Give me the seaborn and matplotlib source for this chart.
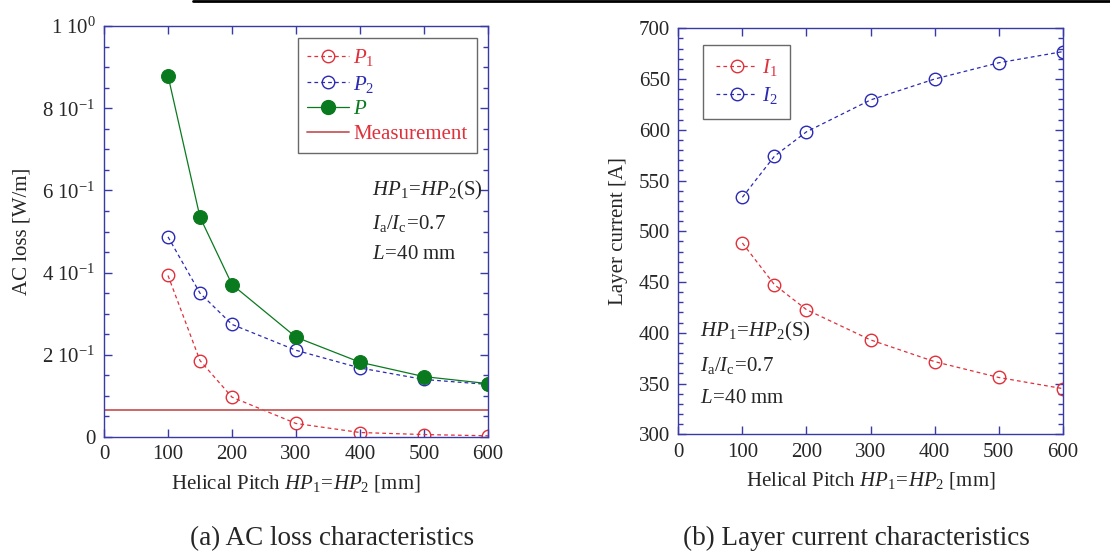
import matplotlib
matplotlib.use("Agg")
import matplotlib.pyplot as plt
from matplotlib.lines import Line2D
from matplotlib.ticker import MultipleLocator, FixedLocator, FixedFormatter
import seaborn as sns
import pandas as pd

# data
pitch = [100, 150, 200, 300, 400, 500, 600]
p1 = [0.393, 0.186, 0.097, 0.033, 0.011, 0.006, 0.003]
p2 = [0.487, 0.350, 0.274, 0.211, 0.168, 0.140, 0.128]
p_total = [0.879, 0.535, 0.371, 0.243, 0.182, 0.147, 0.130]
measurement = 0.066
i1 = [488.5, 447.4, 422.8, 393.0, 371.6, 356.0, 345.0]
i2 = [533.5, 574.0, 598.0, 629.4, 650.0, 666.0, 677.0]
loss_ticks = [0, 0.2, 0.4, 0.6, 0.8, 1.0]
loss_labels = ["0", r"$2\ 10^{-1}$", r"$4\ 10^{-1}$", r"$6\ 10^{-1}$",
               r"$8\ 10^{-1}$", r"$1\ 10^{0}$"]

sns.set_theme(style="ticks")
plt.rcParams["font.family"] = ["Liberation Serif", "DejaVu Serif"]
plt.rcParams["mathtext.fontset"] = "custom"
plt.rcParams["mathtext.rm"] = "Liberation Serif"
plt.rcParams["mathtext.it"] = "Liberation Serif:italic"
plt.rcParams["mathtext.default"] = "rm"

RED = "#e0303a"
BLUE = "#2a2ab4"
GREEN = "#0a7a1e"
MEAS = "#c85a5a"
SPINE = "#3a3aa6"
FS = 15

df_loss = pd.DataFrame({"pitch": pitch, "p1": p1, "p2": p2, "p": p_total})
df_cur = pd.DataFrame({"pitch": pitch, "i1": i1, "i2": i2})

fig = plt.figure(figsize=(11.1, 5.58), dpi=100)
ax1 = fig.add_axes([0.0937, 0.2168, 0.3459, 0.7366])
ax2 = fig.add_axes([0.6111, 0.2217, 0.3463, 0.7276])

dash = (3, 2.5)
open_kw = dict(marker="o", markersize=9, markerfacecolor="none",
               markeredgewidth=1.0, linewidth=0.9)

# (a) AC loss
sns.lineplot(data=df_loss, x="pitch", y="p1", ax=ax1, color=RED,
             markeredgecolor=RED, linestyle=(0, dash), **open_kw)
sns.lineplot(data=df_loss, x="pitch", y="p2", ax=ax1, color=BLUE,
             markeredgecolor=BLUE, linestyle=(0, dash), **open_kw)
sns.lineplot(data=df_loss, x="pitch", y="p", ax=ax1, color=GREEN,
             marker="o", markersize=10, markerfacecolor=GREEN,
             markeredgecolor=GREEN, linewidth=0.9)
ax1.axhline(measurement, color=MEAS, linewidth=1.3)

ax1.set_xlim(0, 600)
ax1.set_ylim(0, 1.0)
ax1.xaxis.set_major_locator(MultipleLocator(100))
ax1.yaxis.set_major_locator(FixedLocator(loss_ticks))
ax1.yaxis.set_major_formatter(FixedFormatter(loss_labels))
ax1.yaxis.set_minor_locator(MultipleLocator(0.05))
ax1.set_xlabel(r"Helical Pitch $\mathit{HP}_1\!=\!\mathit{HP}_2$ [mm]", fontsize=FS,
               labelpad=6)
ax1.set_ylabel("AC loss [W/m]", fontsize=FS, labelpad=8)

h1 = [Line2D([], [], color=RED, linestyle=(0, dash), **open_kw, markeredgecolor=RED),
      Line2D([], [], color=BLUE, linestyle=(0, dash), **open_kw, markeredgecolor=BLUE),
      Line2D([], [], color=GREEN, marker="o", markersize=10, linewidth=0.9),
      Line2D([], [], color=MEAS, linewidth=1.3)]
leg1 = ax1.legend(h1, [r"$\mathit{P}_1$", r"$\mathit{P}_2$", r"$\mathit{P}$", "Measurement"],
                  loc="upper right", bbox_to_anchor=(0.971, 0.971), borderaxespad=0,
                  fontsize=FS, frameon=True, fancybox=False, edgecolor="#444444",
                  handlelength=2.0, handletextpad=0.2, labelspacing=0.25,
                  borderpad=0.45)
for txt, c in zip(leg1.get_texts(), [RED, BLUE, GREEN, RED]):
    txt.set_color(c)
leg1.get_frame().set_linewidth(1.0)

ax1.text(0.698, 0.60, r"$\mathit{HP}_1\!=\!\mathit{HP}_2$(S)", transform=ax1.transAxes,
         fontsize=FS, va="center")
ax1.text(0.698, 0.52, r"$\mathit{I}_\mathrm{a}/\mathit{I}_\mathrm{c}\!=\!0.7$",
         transform=ax1.transAxes, fontsize=FS, va="center")
ax1.text(0.698, 0.443, r"$\mathit{L}\!=\!40$ mm", transform=ax1.transAxes,
         fontsize=FS, va="center")

# (b) Layer current
sns.lineplot(data=df_cur, x="pitch", y="i1", ax=ax2, color=RED,
             markeredgecolor=RED, linestyle=(0, dash), **open_kw)
sns.lineplot(data=df_cur, x="pitch", y="i2", ax=ax2, color=BLUE,
             markeredgecolor=BLUE, linestyle=(0, dash), **open_kw)
ax2.set_xlim(0, 600)
ax2.set_ylim(300, 700)
ax2.xaxis.set_major_locator(MultipleLocator(100))
ax2.yaxis.set_major_locator(MultipleLocator(50))
ax2.yaxis.set_minor_locator(MultipleLocator(10))
ax2.set_xlabel(r"Helical Pitch $\mathit{HP}_1\!=\!\mathit{HP}_2$ [mm]", fontsize=FS,
               labelpad=6)
ax2.set_ylabel("Layer current [A]", fontsize=FS, labelpad=8)

h2 = [Line2D([], [], color=RED, linestyle=(0, dash), **open_kw, markeredgecolor=RED),
      Line2D([], [], color=BLUE, linestyle=(0, dash), **open_kw, markeredgecolor=BLUE)]
leg2 = ax2.legend(h2, [r"$\mathit{I}_1$", r"$\mathit{I}_2$"], loc="upper left",
                  bbox_to_anchor=(0.065, 0.96), borderaxespad=0, fontsize=FS,
                  frameon=True, fancybox=False, edgecolor="#444444",
                  handlelength=2.0, handletextpad=0.2, labelspacing=0.35,
                  borderpad=0.6)
for txt, c in zip(leg2.get_texts(), [RED, BLUE]):
    txt.set_color(c)
leg2.get_frame().set_linewidth(1.0)

ax2.text(0.057, 0.252, r"$\mathit{HP}_1\!=\!\mathit{HP}_2$(S)", transform=ax2.transAxes,
         fontsize=FS, va="center")
ax2.text(0.057, 0.170, r"$\mathit{I}_\mathrm{a}/\mathit{I}_\mathrm{c}\!=\!0.7$",
         transform=ax2.transAxes, fontsize=FS, va="center")
ax2.text(0.057, 0.089, r"$\mathit{L}\!=\!40$ mm", transform=ax2.transAxes,
         fontsize=FS, va="center")

for ax in (ax1, ax2):
    for s in ax.spines.values():
        s.set_visible(True)
        s.set_color(SPINE)
        s.set_linewidth(1.0)
    ax.tick_params(which="both", direction="in", top=True, right=True,
                   color=SPINE, labelsize=FS, pad=6)
    ax.tick_params(which="major", length=6, width=1.0)
    ax.tick_params(which="minor", length=3.5, width=1.0)
    ax.tick_params(axis="x", which="minor", bottom=False, top=False)
    ax.grid(False)

fig.text(0.299, 0.035, "(a) AC loss characteristics", fontsize=19.5, ha="center", va="center")
fig.text(0.772, 0.035, "(b) Layer current characteristics", fontsize=19.5,
         ha="center", va="center")

# black rule along the top edge of the page crop
fig.add_artist(Line2D([0.174, 1.0], [0.998, 0.998], transform=fig.transFigure,
                      color="black", linewidth=2.0))

fig.savefig("out.png", dpi=100, facecolor="white")
